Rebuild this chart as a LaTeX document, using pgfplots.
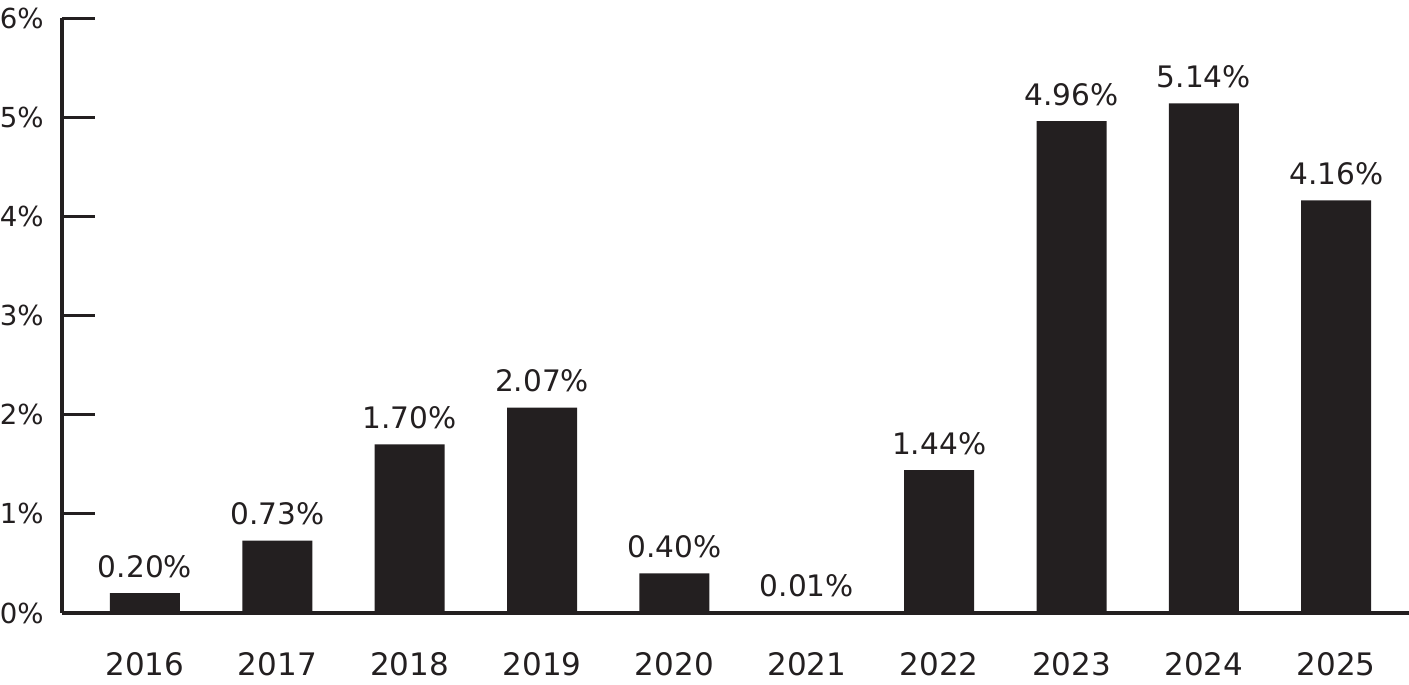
\documentclass[border=0pt]{standalone}
\usepackage{fontspec}
\setmainfont{DejaVu Sans}
\usepackage{pgfplots}
\pgfplotsset{compat=1.18}
\definecolor{barc}{HTML}{231F20}
\begin{document}
\begin{tikzpicture}
\begin{axis}[
  at={(0,0)}, anchor=south west,
  scale only axis,
  width=673.5pt, height=297.5pt,
  xmin=-0.627, xmax=9.55,
  ymin=0, ymax=6,
  axis lines*=left,
  axis line style={line width=2pt, draw=barc, -},
  ybar, bar width=35pt,
  xtick={0,1,2,3,4,5,6,7,8,9},
  xticklabels={2016,2017,2018,2019,2020,2021,2022,2023,2024,2025},
  xtick style={draw=none},
  xticklabel style={font=\fontsize{15.5}{18}\selectfont, anchor=base, yshift=-31.5pt, text=barc},
  ytick={0,1,2,3,4,5,6},
  yticklabel={\pgfmathprintnumber{\tick}\%},
  /pgf/number format/assume math mode=true,
  yticklabel style={font=\fontsize{13.8}{16}\selectfont, anchor=east, inner sep=0pt, xshift=-9pt, text=barc},
  tick align=inside,
  major tick length=16.5pt,
  ytick style={line width=1.5pt, draw=barc},
  nodes near coords={\pgfmathprintnumber[fixed,fixed zerofill,precision=2,assume math mode=true]{\pgfplotspointmeta}\%},
  nodes near coords style={font=\fontsize{14.8}{17}\selectfont, anchor=base, yshift=8pt, inner sep=0pt, text=barc},
  clip=false,
]
\addplot[fill=barc, draw=none] coordinates {
(0,0.20) (1,0.73) (2,1.70) (3,2.07) (4,0.40) (5,0.01) (6,1.44) (7,4.96) (8,5.14) (9,4.16)
};
\end{axis}
\pgfresetboundingbox
\path (-31pt,-36pt) rectangle (673.5pt,306.5pt);
\end{tikzpicture}
\end{document}
